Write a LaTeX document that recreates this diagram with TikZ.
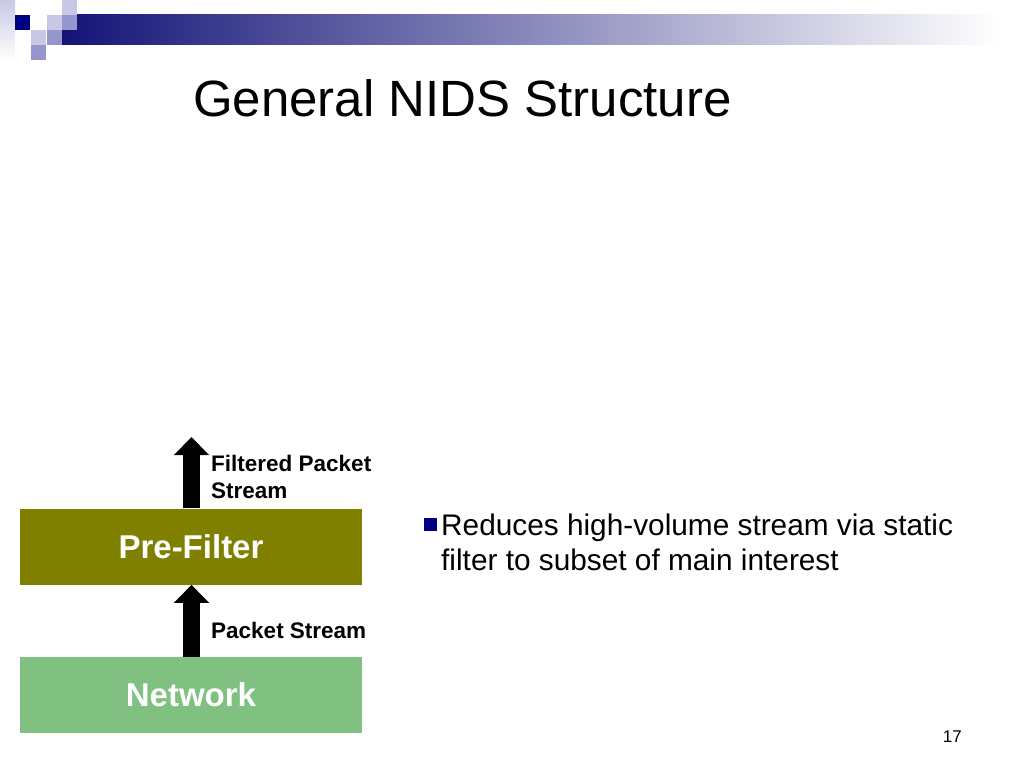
\documentclass[tikz,border=0pt]{standalone}
\usepackage{fontspec}
\setmainfont{Liberation Sans}
\usetikzlibrary{positioning,arrows.meta}
\definecolor{navy}{RGB}{0,0,128}
\definecolor{lightlav}{RGB}{200,200,230}
\definecolor{midlav}{RGB}{150,150,205}
\definecolor{olivebox}{RGB}{128,128,0}
\definecolor{greenbox}{RGB}{128,192,128}
\tikzset{
	every picture/.style={
		>=latex,
		node distance=72pt
}}

\begin{document}
\begin{tikzpicture}[x=1pt,y=-1pt]
\tikzstyle{block}=[rectangle, minimum width=342pt, minimum height=76pt, inner sep=0pt, text=white, font=\fontsize{33}{38}\selectfont\bfseries]
\tikzstyle{connect}=[-{Triangle[width=34pt,length=18pt]}, line width=17pt, black]
\tikzstyle{label}=[anchor=base west, inner sep=0pt, font=\fontsize{22.5}{27}\selectfont\bfseries]
\useasboundingbox (0,0) rectangle (1024,768);
% header squares and bar
\shade[top color=lightlav, bottom color=white] (0,0) rectangle (15,60);
\shade[left color={rgb,255:red,20;green,20;blue,120}, middle color={rgb,255:red,160;green,160;blue,180}, right color=white] (62,15) rectangle (1000,45);
\fill[navy] (15,15) rectangle (30,30);
\fill[lightlav] (31,30) rectangle (46,45);
\fill[midlav] (31,45) rectangle (46,60);
\fill[lightlav] (47,15) rectangle (62,30);
\fill[midlav] (47,30) rectangle (62,45);
\fill[lightlav] (62,0) rectangle (77,15);
\fill[midlav] (62,15) rectangle (77,30);
% title
\node[anchor=base west, inner sep=0pt, font=\fontsize{51}{60}\selectfont] (title) at (193,116) {General NIDS Structure};
% blocks
\node[block, fill=greenbox] (network) at (191,695) {Network};
\node[block, fill=olivebox, above=of network] (prefilter) {Pre-Filter};
\coordinate (out) at (191.5,437);
\draw[connect] ([xshift=0.5pt]network.north) -- ([xshift=0.5pt]prefilter.south);
\draw[connect] ([xshift=0.5pt]prefilter.north) -- (out);
\node[label] (ps) at (211,638) {Packet Stream};
\node[label] (fps) at (211,471) {Filtered Packet};
\node[label] (fps2) at (211,498) {Stream};
% bullet
\fill[navy] (424,518) rectangle (437,531);
\node[anchor=base west, inner sep=0pt, align=left, font=\fontsize{29.8}{35.5}\selectfont] (note) at (441,570.5) {Reduces high-volume stream via static\\filter to subset of main interest};
\node[anchor=base east, inner sep=0pt, font=\fontsize{17}{20}\selectfont] (page) at (962,742) {17};
\end{tikzpicture}
\end{document}
